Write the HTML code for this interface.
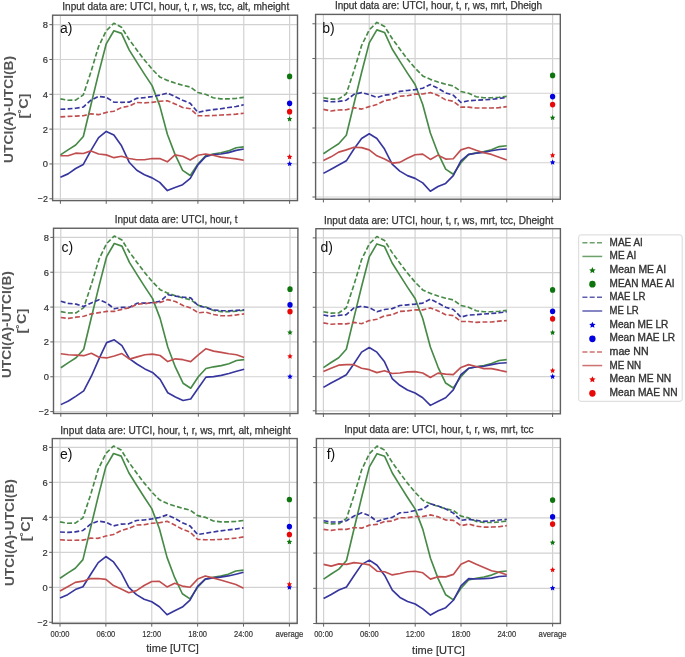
<!DOCTYPE html>
<html><head><meta charset="utf-8"><style>
html,body{margin:0;padding:0;background:#fff;}
svg{display:block;}
#w{will-change:transform;width:685px;height:657px;}
text{font-family:"Liberation Sans",sans-serif;}
</style></head><body>
<div id="w"><svg width="685" height="657" viewBox="0 0 685 657">
<rect width="685" height="657" fill="#fff"/>
<path d="M60.4,15.2V200.6M106.24,15.2V200.6M152.08,15.2V200.6M197.92,15.2V200.6M243.76,15.2V200.6M289.6,15.2V200.6M52.6,24.67H297.5M52.6,59.49H297.5M52.6,94.31H297.5M52.6,129.13H297.5M52.6,163.95H297.5M52.6,198.77H297.5" stroke="#d2d2d2" stroke-width="1.2" fill="none"/>
<path d="M60.4,98.84 L68.04,100.23 L75.68,100.06 L83.32,94.83 L90.96,71.85 L98.6,46.43 L106.24,30.76 L113.88,23.28 L121.52,27.28 L129.16,39.47 L136.8,49.91 L144.44,60.01 L152.08,69.07 L159.72,76.9 L167.36,80.38 L175,82.99 L182.64,85.26 L190.28,87 L197.92,92.57 L205.56,94.31 L213.2,97.79 L220.84,98.84 L228.48,98.84 L236.12,98.31 L243.76,97.44" stroke="#478a47" stroke-width="1.65" fill="none" stroke-linejoin="round" stroke-dasharray="4.9 2.3"/>
<path d="M60.4,154.9 L68.04,149.85 L75.68,144.97 L83.32,136.44 L90.96,104.76 L98.6,73.42 L106.24,43.82 L113.88,30.76 L121.52,33.38 L129.16,49.91 L136.8,62.1 L144.44,74.11 L152.08,85.6 L159.72,105.63 L167.36,134.18 L175,154.37 L182.64,170.39 L190.28,175.44 L197.92,163.95 L205.56,155.77 L213.2,154.03 L220.84,152.81 L228.48,150.89 L236.12,147.76 L243.76,146.89" stroke="#478a47" stroke-width="1.65" fill="none" stroke-linejoin="round"/>
<path d="M60.4,109.28 L68.04,108.93 L75.68,108.24 L83.32,107.02 L90.96,100.23 L98.6,96.4 L106.24,97.27 L113.88,102.14 L121.52,102.32 L129.16,102.14 L136.8,98.31 L144.44,97.62 L152.08,96.57 L159.72,95.18 L167.36,93.09 L175,96.57 L182.64,100.23 L190.28,103.36 L197.92,112.42 L205.56,110.68 L213.2,109.63 L220.84,108.76 L228.48,107.54 L236.12,106.5 L243.76,104.76" stroke="#36369e" stroke-width="1.65" fill="none" stroke-linejoin="round" stroke-dasharray="4.9 2.3"/>
<path d="M60.4,177.18 L68.04,173.87 L75.68,168.48 L83.32,164.47 L90.96,150.37 L98.6,137.66 L106.24,131.39 L113.88,135.05 L121.52,145.84 L129.16,162.21 L136.8,170.22 L144.44,174.74 L152.08,177.88 L159.72,182.4 L167.36,190.59 L175,187.45 L182.64,184.67 L190.28,178.4 L197.92,164.82 L205.56,156.64 L213.2,154.55 L220.84,154.03 L228.48,152.63 L236.12,150.37 L243.76,148.98" stroke="#36369e" stroke-width="1.65" fill="none" stroke-linejoin="round"/>
<path d="M60.4,116.94 L68.04,116.42 L75.68,116.07 L83.32,115.72 L90.96,113.81 L98.6,114.68 L106.24,112.42 L113.88,111.2 L121.52,107.54 L129.16,106.15 L136.8,102.49 L144.44,102.84 L152.08,102.32 L159.72,101.27 L167.36,100.75 L175,103.89 L182.64,107.54 L190.28,108.76 L197.92,115.72 L205.56,115.72 L213.2,115.55 L220.84,115.03 L228.48,114.68 L236.12,114.16 L243.76,113.29" stroke="#c14e4e" stroke-width="1.65" fill="none" stroke-linejoin="round" stroke-dasharray="4.9 2.3"/>
<path d="M60.4,155.77 L68.04,155.77 L75.68,153.16 L83.32,153.5 L90.96,150.89 L98.6,154.03 L106.24,154.9 L113.88,157.68 L121.52,156.29 L129.16,158.55 L136.8,159.77 L144.44,159.77 L152.08,158.55 L159.72,158.55 L167.36,161.86 L175,154.9 L182.64,156.29 L190.28,159.95 L197.92,155.24 L205.56,154.03 L213.2,155.24 L220.84,157.16 L228.48,158.03 L236.12,158.9 L243.76,160.29" stroke="#c14e4e" stroke-width="1.65" fill="none" stroke-linejoin="round"/>
<path d="M289.6,116.13 L290.42,117.91 L292.36,118.14 L290.92,119.46 L291.3,121.38 L289.6,120.42 L287.9,121.38 L288.28,119.46 L286.84,118.14 L288.78,117.91Z" fill="#0e740e"/>
<ellipse cx="289.6" cy="76.38" rx="2.65" ry="2.85" fill="#0e740e"/>
<path d="M289.6,160.88 L290.42,162.65 L292.36,162.88 L290.92,164.21 L291.3,166.12 L289.6,165.17 L287.9,166.12 L288.28,164.21 L286.84,162.88 L288.78,162.65Z" fill="#0000e0"/>
<ellipse cx="289.6" cy="103.36" rx="2.65" ry="2.85" fill="#0000e0"/>
<path d="M289.6,154.09 L290.42,155.86 L292.36,156.09 L290.92,157.42 L291.3,159.33 L289.6,158.38 L287.9,159.33 L288.28,157.42 L286.84,156.09 L288.78,155.86Z" fill="#e80808"/>
<ellipse cx="289.6" cy="111.72" rx="2.65" ry="2.85" fill="#e80808"/>
<rect x="52.6" y="15.2" width="244.9" height="185.4" fill="none" stroke="#606060" stroke-width="1.4"/>
<path d="M60.4,200.6v3.2M106.24,200.6v3.2M152.08,200.6v3.2M197.92,200.6v3.2M243.76,200.6v3.2M289.6,200.6v3.2M52.6,24.67h-3.2M52.6,59.49h-3.2M52.6,94.31h-3.2M52.6,129.13h-3.2M52.6,163.95h-3.2M52.6,198.77h-3.2" stroke="#606060" stroke-width="1" fill="none"/>
<text x="62.3" y="9.6" font-size="10.2" fill="#333" stroke="#333" stroke-width="0.25" textLength="226.9" lengthAdjust="spacingAndGlyphs">Input data are: UTCI, hour, t, r, ws, tcc, alt, mheight</text>
<text x="60" y="33" font-size="14" fill="#111">a)</text>
<text x="48" y="28.17" font-size="9.9" fill="#333" stroke="#333" stroke-width="0.2" text-anchor="end" textLength="5.2" lengthAdjust="spacingAndGlyphs">8</text>
<text x="48" y="62.99" font-size="9.9" fill="#333" stroke="#333" stroke-width="0.2" text-anchor="end" textLength="5.2" lengthAdjust="spacingAndGlyphs">6</text>
<text x="48" y="97.81" font-size="9.9" fill="#333" stroke="#333" stroke-width="0.2" text-anchor="end" textLength="5.2" lengthAdjust="spacingAndGlyphs">4</text>
<text x="48" y="132.63" font-size="9.9" fill="#333" stroke="#333" stroke-width="0.2" text-anchor="end" textLength="5.2" lengthAdjust="spacingAndGlyphs">2</text>
<text x="48" y="167.45" font-size="9.9" fill="#333" stroke="#333" stroke-width="0.2" text-anchor="end" textLength="5.2" lengthAdjust="spacingAndGlyphs">0</text>
<text x="48" y="202.27" font-size="9.9" fill="#333" stroke="#333" stroke-width="0.2" text-anchor="end" textLength="10.2" lengthAdjust="spacingAndGlyphs">−2</text>
<path d="M323.4,14.4V199.2M369.24,14.4V199.2M415.08,14.4V199.2M460.92,14.4V199.2M506.76,14.4V199.2M552.6,14.4V199.2M315.6,23.79H560.3M315.6,58.53H560.3M315.6,93.27H560.3M315.6,128.01H560.3M315.6,162.75H560.3M315.6,197H560.3" stroke="#d2d2d2" stroke-width="1.2" fill="none"/>
<path d="M323.4,97.79 L331.04,99.18 L338.68,99 L346.32,93.79 L353.96,70.86 L361.6,45.5 L369.24,29.87 L376.88,22.4 L384.52,26.4 L392.16,38.55 L399.8,48.98 L407.44,59.05 L415.08,68.08 L422.72,75.9 L430.36,79.37 L438,81.98 L445.64,84.24 L453.28,85.97 L460.92,91.53 L468.56,93.27 L476.2,96.74 L483.84,97.79 L491.48,97.79 L499.12,97.27 L506.76,96.4" stroke="#478a47" stroke-width="1.65" fill="none" stroke-linejoin="round" stroke-dasharray="4.9 2.3"/>
<path d="M323.4,153.72 L331.04,148.68 L338.68,143.82 L346.32,135.31 L353.96,103.69 L361.6,72.43 L369.24,42.9 L376.88,29.87 L384.52,32.47 L392.16,48.98 L399.8,61.14 L407.44,73.12 L415.08,84.58 L422.72,104.56 L430.36,133.05 L438,153.2 L445.64,169.18 L453.28,174.21 L460.92,162.75 L468.56,154.59 L476.2,152.85 L483.84,151.63 L491.48,149.72 L499.12,146.6 L506.76,145.73" stroke="#478a47" stroke-width="1.65" fill="none" stroke-linejoin="round"/>
<path d="M323.4,100.57 L331.04,101.78 L338.68,101.43 L346.32,100.22 L353.96,94.31 L361.6,92.58 L369.24,94.66 L376.88,97.44 L384.52,95.18 L392.16,94.31 L399.8,91.36 L407.44,90.49 L415.08,89.62 L422.72,88.23 L430.36,84.58 L438,88.23 L445.64,92.92 L453.28,95.18 L460.92,102.48 L468.56,100.74 L476.2,100.22 L483.84,99.87 L491.48,99.35 L499.12,98.48 L506.76,97.44" stroke="#36369e" stroke-width="1.65" fill="none" stroke-linejoin="round" stroke-dasharray="4.9 2.3"/>
<path d="M323.4,173.35 L331.04,169.18 L338.68,165.01 L346.32,160.84 L353.96,149.03 L361.6,138.43 L369.24,133.74 L376.88,138.43 L384.52,149.03 L392.16,164.14 L399.8,171.09 L407.44,175.6 L415.08,178.38 L422.72,182.9 L430.36,191.24 L438,186.55 L445.64,183.42 L453.28,175.6 L460.92,160.84 L468.56,154.41 L476.2,153.2 L483.84,152.33 L491.48,150.76 L499.12,149.55 L506.76,149.03" stroke="#36369e" stroke-width="1.65" fill="none" stroke-linejoin="round"/>
<path d="M323.4,109.42 L331.04,110.99 L338.68,109.95 L346.32,109.77 L353.96,107.69 L361.6,109.08 L369.24,106.64 L376.88,104.56 L384.52,100.57 L392.16,99.35 L399.8,96.22 L407.44,95.7 L415.08,94.14 L422.72,93.96 L430.36,92.58 L438,95.35 L445.64,99.87 L453.28,101.26 L460.92,107.17 L468.56,107.17 L476.2,108.03 L483.84,108.03 L491.48,108.03 L499.12,107.69 L506.76,106.64" stroke="#c14e4e" stroke-width="1.65" fill="none" stroke-linejoin="round" stroke-dasharray="4.9 2.3"/>
<path d="M323.4,160.49 L331.04,156.84 L338.68,152.15 L346.32,149.9 L353.96,147.29 L361.6,147.64 L369.24,149.9 L376.88,155.8 L384.52,159.1 L392.16,163.1 L399.8,162.4 L407.44,158.23 L415.08,154.76 L422.72,154.06 L430.36,159.45 L438,155.11 L445.64,159.1 L453.28,158.75 L460.92,149.9 L468.56,147.46 L476.2,150.24 L483.84,152.68 L491.48,154.41 L499.12,157.19 L506.76,159.97" stroke="#c14e4e" stroke-width="1.65" fill="none" stroke-linejoin="round"/>
<path d="M552.6,114.86 L553.42,116.64 L555.36,116.87 L553.92,118.19 L554.3,120.11 L552.6,119.15 L550.9,120.11 L551.28,118.19 L549.84,116.87 L551.78,116.64Z" fill="#0e740e"/>
<ellipse cx="552.6" cy="75.38" rx="2.65" ry="2.85" fill="#0e740e"/>
<path d="M552.6,159.5 L553.42,161.28 L555.36,161.51 L553.92,162.83 L554.3,164.75 L552.6,163.79 L550.9,164.75 L551.28,162.83 L549.84,161.51 L551.78,161.28Z" fill="#0000e0"/>
<ellipse cx="552.6" cy="96.57" rx="2.65" ry="2.85" fill="#0000e0"/>
<path d="M552.6,152.47 L553.42,154.24 L555.36,154.47 L553.92,155.8 L554.3,157.71 L552.6,156.76 L550.9,157.71 L551.28,155.8 L549.84,154.47 L551.78,154.24Z" fill="#e80808"/>
<ellipse cx="552.6" cy="104.56" rx="2.65" ry="2.85" fill="#e80808"/>
<rect x="315.6" y="14.4" width="244.7" height="184.8" fill="none" stroke="#606060" stroke-width="1.4"/>
<path d="M323.4,199.2v3.2M369.24,199.2v3.2M415.08,199.2v3.2M460.92,199.2v3.2M506.76,199.2v3.2M552.6,199.2v3.2M315.6,23.79h-3.2M315.6,58.53h-3.2M315.6,93.27h-3.2M315.6,128.01h-3.2M315.6,162.75h-3.2M315.6,197h-3.2" stroke="#606060" stroke-width="1" fill="none"/>
<text x="334.9" y="9.1" font-size="10.2" fill="#333" stroke="#333" stroke-width="0.25" textLength="207.3" lengthAdjust="spacingAndGlyphs">Input data are: UTCI, hour, t, r, ws, mrt, Dheigh</text>
<text x="322.2" y="33.3" font-size="14" fill="#111">b)</text>
<path d="M60.8,228.25V413.5M106.64,228.25V413.5M152.48,228.25V413.5M198.32,228.25V413.5M244.16,228.25V413.5M290,228.25V413.5M53.5,237.39H297.9M53.5,272.23H297.9M53.5,307.07H297.9M53.5,341.91H297.9M53.5,376.75H297.9M53.5,411.59H297.9" stroke="#d2d2d2" stroke-width="1.2" fill="none"/>
<path d="M60.8,311.6 L68.44,312.99 L76.08,312.82 L83.72,307.59 L91.36,284.6 L99,259.16 L106.64,243.49 L114.28,236 L121.92,240 L129.56,252.2 L137.2,262.65 L144.84,272.75 L152.48,281.81 L160.12,289.65 L167.76,293.13 L175.4,295.75 L183.04,298.01 L190.68,299.75 L198.32,305.33 L205.96,307.07 L213.6,310.55 L221.24,311.6 L228.88,311.6 L236.52,311.08 L244.16,310.21" stroke="#478a47" stroke-width="1.65" fill="none" stroke-linejoin="round" stroke-dasharray="4.9 2.3"/>
<path d="M60.8,367.69 L68.44,362.64 L76.08,357.76 L83.72,349.23 L91.36,317.52 L99,286.17 L106.64,256.55 L114.28,243.49 L121.92,246.1 L129.56,262.65 L137.2,274.84 L144.84,286.86 L152.48,298.36 L160.12,318.39 L167.76,346.96 L175.4,367.17 L183.04,383.2 L190.68,388.25 L198.32,376.75 L205.96,368.56 L213.6,366.82 L221.24,365.6 L228.88,363.69 L236.52,360.55 L244.16,359.68" stroke="#478a47" stroke-width="1.65" fill="none" stroke-linejoin="round"/>
<path d="M60.8,301.32 L68.44,303.41 L76.08,304.11 L83.72,306.55 L91.36,302.89 L99,299.75 L106.64,302.89 L114.28,308.81 L121.92,307.42 L129.56,307.24 L137.2,303.24 L144.84,303.06 L152.48,302.54 L160.12,301.32 L167.76,294.7 L175.4,296.1 L183.04,297.14 L190.68,297.84 L198.32,305.85 L205.96,307.59 L213.6,310.03 L221.24,310.55 L228.88,310.9 L236.52,310.38 L244.16,309.86" stroke="#36369e" stroke-width="1.65" fill="none" stroke-linejoin="round" stroke-dasharray="4.9 2.3"/>
<path d="M60.8,404.62 L68.44,400.96 L76.08,396.09 L83.72,390.86 L91.36,376.23 L99,358.81 L106.64,342.61 L114.28,339.82 L121.92,345.57 L129.56,358.81 L137.2,364.21 L144.84,368.91 L152.48,372.39 L160.12,379.36 L167.76,392.78 L175.4,396.96 L183.04,400.44 L190.68,399.05 L198.32,388.07 L205.96,377.1 L213.6,376.58 L221.24,375.36 L228.88,373.44 L236.52,371.18 L244.16,369.26" stroke="#36369e" stroke-width="1.65" fill="none" stroke-linejoin="round"/>
<path d="M60.8,317.52 L68.44,318.39 L76.08,317.17 L83.72,316.3 L91.36,313.86 L99,312.64 L106.64,311.43 L114.28,311.43 L121.92,309.33 L129.56,307.77 L137.2,304.11 L144.84,303.59 L152.48,302.71 L160.12,302.54 L167.76,299.58 L175.4,301.5 L183.04,305.5 L190.68,307.94 L198.32,312.82 L205.96,312.12 L213.6,314.56 L221.24,315.78 L228.88,315.78 L236.52,314.91 L244.16,313.86" stroke="#c14e4e" stroke-width="1.65" fill="none" stroke-linejoin="round" stroke-dasharray="4.9 2.3"/>
<path d="M60.8,353.76 L68.44,354.8 L76.08,355.15 L83.72,355.67 L91.36,353.23 L99,357.24 L106.64,357.94 L114.28,356.02 L121.92,353.58 L129.56,359.16 L137.2,356.89 L144.84,354.8 L152.48,354.1 L160.12,355.5 L167.76,361.59 L175.4,358.81 L183.04,359.68 L190.68,361.59 L198.32,354.8 L205.96,348.7 L213.6,351.14 L221.24,352.36 L228.88,353.76 L236.52,354.8 L244.16,357.41" stroke="#c14e4e" stroke-width="1.65" fill="none" stroke-linejoin="round"/>
<path d="M290,329.6 L290.82,331.38 L292.76,331.61 L291.32,332.93 L291.7,334.85 L290,333.9 L288.3,334.85 L288.68,332.93 L287.24,331.61 L289.18,331.38Z" fill="#0e740e"/>
<ellipse cx="290" cy="289.13" rx="2.65" ry="2.85" fill="#0e740e"/>
<path d="M290,373.85 L290.82,375.62 L292.76,375.85 L291.32,377.18 L291.7,379.1 L290,378.14 L288.3,379.1 L288.68,377.18 L287.24,375.85 L289.18,375.62Z" fill="#0000e0"/>
<ellipse cx="290" cy="304.81" rx="2.65" ry="2.85" fill="#0000e0"/>
<path d="M290,353.47 L290.82,355.24 L292.76,355.47 L291.32,356.8 L291.7,358.71 L290,357.76 L288.3,358.71 L288.68,356.8 L287.24,355.47 L289.18,355.24Z" fill="#e80808"/>
<ellipse cx="290" cy="311.6" rx="2.65" ry="2.85" fill="#e80808"/>
<rect x="53.5" y="228.25" width="244.4" height="185.25" fill="none" stroke="#606060" stroke-width="1.4"/>
<path d="M60.8,413.5v3.2M106.64,413.5v3.2M152.48,413.5v3.2M198.32,413.5v3.2M244.16,413.5v3.2M290,413.5v3.2M53.5,237.39h-3.2M53.5,272.23h-3.2M53.5,307.07h-3.2M53.5,341.91h-3.2M53.5,376.75h-3.2M53.5,411.59h-3.2" stroke="#606060" stroke-width="1" fill="none"/>
<text x="114.8" y="223.2" font-size="10.2" fill="#333" stroke="#333" stroke-width="0.25" textLength="122.6" lengthAdjust="spacingAndGlyphs">Input data are: UTCI, hour, t</text>
<text x="61.6" y="251.5" font-size="14" fill="#111">c)</text>
<text x="48.9" y="240.89" font-size="9.9" fill="#333" stroke="#333" stroke-width="0.2" text-anchor="end" textLength="5.2" lengthAdjust="spacingAndGlyphs">8</text>
<text x="48.9" y="275.73" font-size="9.9" fill="#333" stroke="#333" stroke-width="0.2" text-anchor="end" textLength="5.2" lengthAdjust="spacingAndGlyphs">6</text>
<text x="48.9" y="310.57" font-size="9.9" fill="#333" stroke="#333" stroke-width="0.2" text-anchor="end" textLength="5.2" lengthAdjust="spacingAndGlyphs">4</text>
<text x="48.9" y="345.41" font-size="9.9" fill="#333" stroke="#333" stroke-width="0.2" text-anchor="end" textLength="5.2" lengthAdjust="spacingAndGlyphs">2</text>
<text x="48.9" y="380.25" font-size="9.9" fill="#333" stroke="#333" stroke-width="0.2" text-anchor="end" textLength="5.2" lengthAdjust="spacingAndGlyphs">0</text>
<text x="48.9" y="415.09" font-size="9.9" fill="#333" stroke="#333" stroke-width="0.2" text-anchor="end" textLength="10.2" lengthAdjust="spacingAndGlyphs">−2</text>
<path d="M323.4,228.7V413.8M369.24,228.7V413.8M415.08,228.7V413.8M460.92,228.7V413.8M506.76,228.7V413.8M552.6,228.7V413.8M315.9,237.88H560.4M315.9,272.56H560.4M315.9,307.24H560.4M315.9,341.92H560.4M315.9,376.6H560.4M315.9,410.8H560.4" stroke="#d2d2d2" stroke-width="1.2" fill="none"/>
<path d="M323.4,311.75 L331.04,313.14 L338.68,312.96 L346.32,307.76 L353.96,284.87 L361.6,259.56 L369.24,243.95 L376.88,236.49 L384.52,240.48 L392.16,252.62 L399.8,263.02 L407.44,273.08 L415.08,282.1 L422.72,289.9 L430.36,293.37 L438,295.97 L445.64,298.22 L453.28,299.96 L460.92,305.51 L468.56,307.24 L476.2,310.71 L483.84,311.75 L491.48,311.75 L499.12,311.23 L506.76,310.36" stroke="#478a47" stroke-width="1.65" fill="none" stroke-linejoin="round" stroke-dasharray="4.9 2.3"/>
<path d="M323.4,367.58 L331.04,362.55 L338.68,357.7 L346.32,349.2 L353.96,317.64 L361.6,286.43 L369.24,256.95 L376.88,243.95 L384.52,246.55 L392.16,263.02 L399.8,275.16 L407.44,287.13 L415.08,298.57 L422.72,318.51 L430.36,346.95 L438,367.06 L445.64,383.02 L453.28,388.04 L460.92,376.6 L468.56,368.45 L476.2,366.72 L483.84,365.5 L491.48,363.6 L499.12,360.47 L506.76,359.61" stroke="#478a47" stroke-width="1.65" fill="none" stroke-linejoin="round"/>
<path d="M323.4,315.04 L331.04,316.26 L338.68,315.39 L346.32,314.7 L353.96,307.93 L361.6,306.2 L369.24,307.59 L376.88,311.75 L384.52,309.49 L392.16,308.63 L399.8,305.51 L407.44,304.81 L415.08,304.12 L422.72,303.08 L430.36,299.09 L438,302.91 L445.64,307.24 L453.28,309.49 L460.92,317.12 L468.56,315.04 L476.2,314.7 L483.84,314 L491.48,313.48 L499.12,312.79 L506.76,311.75" stroke="#36369e" stroke-width="1.65" fill="none" stroke-linejoin="round" stroke-dasharray="4.9 2.3"/>
<path d="M323.4,387.35 L331.04,383.02 L338.68,379.03 L346.32,374.69 L353.96,363.77 L361.6,352.15 L369.24,347.47 L376.88,352.15 L384.52,361.86 L392.16,378.51 L399.8,385.27 L407.44,389.95 L415.08,393.07 L422.72,397.75 L430.36,405.38 L438,401.4 L445.64,397.75 L453.28,389.95 L460.92,374.69 L468.56,368.28 L476.2,366.89 L483.84,366.2 L491.48,364.64 L499.12,363.25 L506.76,362.73" stroke="#36369e" stroke-width="1.65" fill="none" stroke-linejoin="round"/>
<path d="M323.4,322.85 L331.04,324.23 L338.68,323.89 L346.32,323.89 L353.96,322.33 L361.6,323.71 L369.24,320.59 L376.88,319.2 L384.52,315.91 L392.16,314.7 L399.8,311.4 L407.44,310.88 L415.08,309.84 L422.72,309.84 L430.36,307.93 L438,310.88 L445.64,314.7 L453.28,315.56 L460.92,321.46 L468.56,321.46 L476.2,322.33 L483.84,321.98 L491.48,321.98 L499.12,321.11 L506.76,320.59" stroke="#c14e4e" stroke-width="1.65" fill="none" stroke-linejoin="round" stroke-dasharray="4.9 2.3"/>
<path d="M323.4,371.57 L331.04,368.28 L338.68,365.16 L346.32,364.64 L353.96,364.64 L361.6,368.28 L369.24,369.66 L376.88,372.61 L384.52,370.7 L392.16,373.48 L399.8,372.96 L407.44,371.92 L415.08,371.57 L422.72,372.96 L430.36,377.47 L438,373.13 L445.64,374.17 L453.28,374.69 L460.92,367.41 L468.56,364.64 L476.2,366.54 L483.84,368.62 L491.48,368.62 L499.12,370.18 L506.76,371.92" stroke="#c14e4e" stroke-width="1.65" fill="none" stroke-linejoin="round"/>
<path d="M552.6,329.66 L553.42,331.43 L555.36,331.66 L553.92,332.99 L554.3,334.9 L552.6,333.95 L550.9,334.9 L551.28,332.99 L549.84,331.66 L551.78,331.43Z" fill="#0e740e"/>
<ellipse cx="552.6" cy="289.9" rx="2.65" ry="2.85" fill="#0e740e"/>
<path d="M552.6,373.7 L553.42,375.47 L555.36,375.7 L553.92,377.03 L554.3,378.95 L552.6,377.99 L550.9,378.95 L551.28,377.03 L549.84,375.7 L551.78,375.47Z" fill="#0000e0"/>
<ellipse cx="552.6" cy="311.23" rx="2.65" ry="2.85" fill="#0000e0"/>
<path d="M552.6,367.63 L553.42,369.4 L555.36,369.63 L553.92,370.96 L554.3,372.88 L552.6,371.92 L550.9,372.88 L551.28,370.96 L549.84,369.63 L551.78,369.4Z" fill="#e80808"/>
<ellipse cx="552.6" cy="318.86" rx="2.65" ry="2.85" fill="#e80808"/>
<rect x="315.9" y="228.7" width="244.5" height="185.1" fill="none" stroke="#606060" stroke-width="1.4"/>
<path d="M323.4,413.8v3.2M369.24,413.8v3.2M415.08,413.8v3.2M460.92,413.8v3.2M506.76,413.8v3.2M552.6,413.8v3.2M315.9,237.88h-3.2M315.9,272.56h-3.2M315.9,307.24h-3.2M315.9,341.92h-3.2M315.9,376.6h-3.2M315.9,410.8h-3.2" stroke="#606060" stroke-width="1" fill="none"/>
<text x="324" y="223.8" font-size="10.2" fill="#333" stroke="#333" stroke-width="0.25" textLength="229.3" lengthAdjust="spacingAndGlyphs">Input data are: UTCI, hour, t, r, ws, mrt, tcc, Dheight</text>
<text x="320.4" y="251.7" font-size="14" fill="#111">d)</text>
<path d="M60,438.55V623.45M105.88,438.55V623.45M151.76,438.55V623.45M197.64,438.55V623.45M243.52,438.55V623.45M289.4,438.55V623.45M52.3,447.38H297.2M52.3,482.36H297.2M52.3,517.34H297.2M52.3,552.32H297.2M52.3,587.3H297.2M52.3,622.28H297.2" stroke="#d2d2d2" stroke-width="1.2" fill="none"/>
<path d="M60,521.89 L67.65,523.29 L75.29,523.11 L82.94,517.86 L90.59,494.78 L98.23,469.24 L105.88,453.5 L113.53,445.98 L121.17,450 L128.82,462.25 L136.47,472.74 L144.11,482.88 L151.76,491.98 L159.41,499.85 L167.05,503.35 L174.7,505.97 L182.35,508.25 L189.99,509.99 L197.64,515.59 L205.29,517.34 L212.93,520.84 L220.58,521.89 L228.23,521.89 L235.87,521.36 L243.52,520.49" stroke="#478a47" stroke-width="1.65" fill="none" stroke-linejoin="round" stroke-dasharray="4.9 2.3"/>
<path d="M60,578.21 L67.65,573.13 L75.29,568.24 L82.94,559.67 L90.59,527.83 L98.23,496.35 L105.88,466.62 L113.53,453.5 L121.17,456.12 L128.82,472.74 L136.47,484.98 L144.11,497.05 L151.76,508.59 L159.41,528.71 L167.05,557.39 L174.7,577.68 L182.35,593.77 L189.99,598.84 L197.64,587.3 L205.29,579.08 L212.93,577.33 L220.58,576.11 L228.23,574.18 L235.87,571.03 L243.52,570.16" stroke="#478a47" stroke-width="1.65" fill="none" stroke-linejoin="round"/>
<path d="M60,532.03 L67.65,532.38 L75.29,531.86 L82.94,530.46 L90.59,524.16 L98.23,521.01 L105.88,522.24 L113.53,525.91 L121.17,524.16 L128.82,523.81 L136.47,520.49 L144.11,519.96 L151.76,518.91 L159.41,517.51 L167.05,514.89 L174.7,518.21 L182.35,522.76 L189.99,525.91 L197.64,534.48 L205.29,533.26 L212.93,532.03 L220.58,530.81 L228.23,529.93 L235.87,529.06 L243.52,527.83" stroke="#36369e" stroke-width="1.65" fill="none" stroke-linejoin="round" stroke-dasharray="4.9 2.3"/>
<path d="M60,597.97 L67.65,594.65 L75.29,589.57 L82.94,586.78 L90.59,574.53 L98.23,562.64 L105.88,556.52 L113.53,561.94 L121.17,572.61 L128.82,587.3 L136.47,594.65 L144.11,599.19 L151.76,601.82 L159.41,606.71 L167.05,614.76 L174.7,610.74 L182.35,607.06 L189.99,600.07 L197.64,586.43 L205.29,579.08 L212.93,577.86 L220.58,577.16 L228.23,575.93 L235.87,574.18 L243.52,572.26" stroke="#36369e" stroke-width="1.65" fill="none" stroke-linejoin="round"/>
<path d="M60,539.73 L67.65,540.25 L75.29,540.25 L82.94,540.08 L90.59,538.15 L98.23,538.33 L105.88,536.05 L113.53,534.48 L121.17,530.46 L128.82,528.36 L136.47,525.04 L144.11,524.69 L151.76,523.29 L159.41,522.76 L167.05,521.36 L174.7,525.04 L182.35,529.23 L189.99,532.03 L197.64,539.38 L205.29,539.73 L212.93,539.73 L220.58,539.38 L228.23,538.85 L235.87,538.15 L243.52,536.93" stroke="#c14e4e" stroke-width="1.65" fill="none" stroke-linejoin="round" stroke-dasharray="4.9 2.3"/>
<path d="M60,590.97 L67.65,586.78 L75.29,582.4 L82.94,581.18 L90.59,578.55 L98.23,578.55 L105.88,579.43 L113.53,585.55 L121.17,589.05 L128.82,592.72 L136.47,590.62 L144.11,585.55 L151.76,581.53 L159.41,581.35 L167.05,586.95 L174.7,583.28 L182.35,586.08 L189.99,587.3 L197.64,579.08 L205.29,575.93 L212.93,577.86 L220.58,579.95 L228.23,582.23 L235.87,584.5 L243.52,588.17" stroke="#c14e4e" stroke-width="1.65" fill="none" stroke-linejoin="round"/>
<path d="M289.4,539.1 L290.22,540.87 L292.16,541.1 L290.72,542.43 L291.1,544.35 L289.4,543.39 L287.7,544.35 L288.08,542.43 L286.64,541.1 L288.58,540.87Z" fill="#0e740e"/>
<ellipse cx="289.4" cy="499.5" rx="2.65" ry="2.85" fill="#0e740e"/>
<path d="M289.4,584.4 L290.22,586.17 L292.16,586.4 L290.72,587.73 L291.1,589.65 L289.4,588.69 L287.7,589.65 L288.08,587.73 L286.64,586.4 L288.58,586.17Z" fill="#0000e0"/>
<ellipse cx="289.4" cy="526.61" rx="2.65" ry="2.85" fill="#0000e0"/>
<path d="M289.4,581.43 L290.22,583.2 L292.16,583.43 L290.72,584.76 L291.1,586.67 L289.4,585.72 L287.7,586.67 L288.08,584.76 L286.64,583.43 L288.58,583.2Z" fill="#e80808"/>
<ellipse cx="289.4" cy="534.48" rx="2.65" ry="2.85" fill="#e80808"/>
<rect x="52.3" y="438.55" width="244.9" height="184.9" fill="none" stroke="#606060" stroke-width="1.4"/>
<path d="M60,623.45v3.2M105.88,623.45v3.2M151.76,623.45v3.2M197.64,623.45v3.2M243.52,623.45v3.2M289.4,623.45v3.2M52.3,447.38h-3.2M52.3,482.36h-3.2M52.3,517.34h-3.2M52.3,552.32h-3.2M52.3,587.3h-3.2M52.3,622.28h-3.2" stroke="#606060" stroke-width="1" fill="none"/>
<text x="60.3" y="433.8" font-size="10.2" fill="#333" stroke="#333" stroke-width="0.25" textLength="230.6" lengthAdjust="spacingAndGlyphs">Input data are: UTCI, hour, t, r, ws, mrt, alt, mheight</text>
<text x="60" y="459.2" font-size="14" fill="#111">e)</text>
<text x="47.7" y="450.88" font-size="9.9" fill="#333" stroke="#333" stroke-width="0.2" text-anchor="end" textLength="5.2" lengthAdjust="spacingAndGlyphs">8</text>
<text x="47.7" y="485.86" font-size="9.9" fill="#333" stroke="#333" stroke-width="0.2" text-anchor="end" textLength="5.2" lengthAdjust="spacingAndGlyphs">6</text>
<text x="47.7" y="520.84" font-size="9.9" fill="#333" stroke="#333" stroke-width="0.2" text-anchor="end" textLength="5.2" lengthAdjust="spacingAndGlyphs">4</text>
<text x="47.7" y="555.82" font-size="9.9" fill="#333" stroke="#333" stroke-width="0.2" text-anchor="end" textLength="5.2" lengthAdjust="spacingAndGlyphs">2</text>
<text x="47.7" y="590.8" font-size="9.9" fill="#333" stroke="#333" stroke-width="0.2" text-anchor="end" textLength="5.2" lengthAdjust="spacingAndGlyphs">0</text>
<text x="47.7" y="625.78" font-size="9.9" fill="#333" stroke="#333" stroke-width="0.2" text-anchor="end" textLength="10.2" lengthAdjust="spacingAndGlyphs">−2</text>
<text x="60" y="636.55" font-size="9.9" fill="#333" stroke="#333" stroke-width="0.2" text-anchor="middle" textLength="18.8" lengthAdjust="spacingAndGlyphs">00:00</text>
<text x="105.88" y="636.55" font-size="9.9" fill="#333" stroke="#333" stroke-width="0.2" text-anchor="middle" textLength="18.8" lengthAdjust="spacingAndGlyphs">06:00</text>
<text x="151.76" y="636.55" font-size="9.9" fill="#333" stroke="#333" stroke-width="0.2" text-anchor="middle" textLength="18.8" lengthAdjust="spacingAndGlyphs">12:00</text>
<text x="197.64" y="636.55" font-size="9.9" fill="#333" stroke="#333" stroke-width="0.2" text-anchor="middle" textLength="18.8" lengthAdjust="spacingAndGlyphs">18:00</text>
<text x="243.52" y="636.55" font-size="9.9" fill="#333" stroke="#333" stroke-width="0.2" text-anchor="middle" textLength="18.8" lengthAdjust="spacingAndGlyphs">24:00</text>
<text x="289.4" y="636.55" font-size="9.9" fill="#333" stroke="#333" stroke-width="0.2" text-anchor="middle" textLength="28.0" lengthAdjust="spacingAndGlyphs">average</text>
<path d="M323.6,438.55V623.45M369.4,438.55V623.45M415.2,438.55V623.45M461,438.55V623.45M506.8,438.55V623.45M552.6,438.55V623.45M316.4,447.5H560.4M316.4,482.7H560.4M316.4,517.9H560.4M316.4,553.1H560.4M316.4,588.3H560.4M316.4,623.5H560.4" stroke="#d2d2d2" stroke-width="1.2" fill="none"/>
<path d="M323.6,522.48 L331.23,523.88 L338.87,523.71 L346.5,518.43 L354.13,495.2 L361.77,469.5 L369.4,453.66 L377.03,446.09 L384.67,450.14 L392.3,462.46 L399.93,473.02 L407.57,483.23 L415.2,492.38 L422.83,500.3 L430.47,503.82 L438.1,506.46 L445.73,508.75 L453.37,510.51 L461,516.14 L468.63,517.9 L476.27,521.42 L483.9,522.48 L491.53,522.48 L499.17,521.95 L506.8,521.07" stroke="#478a47" stroke-width="1.65" fill="none" stroke-linejoin="round" stroke-dasharray="4.9 2.3"/>
<path d="M323.6,579.15 L331.23,574.04 L338.87,569.12 L346.5,560.49 L354.13,528.46 L361.77,496.78 L369.4,466.86 L377.03,453.66 L384.67,456.3 L392.3,473.02 L399.93,485.34 L407.57,497.48 L415.2,509.1 L422.83,529.34 L430.47,558.2 L438.1,578.62 L445.73,594.81 L453.37,599.92 L461,588.3 L468.63,580.03 L476.27,578.27 L483.9,577.04 L491.53,575.1 L499.17,571.93 L506.8,571.05" stroke="#478a47" stroke-width="1.65" fill="none" stroke-linejoin="round"/>
<path d="M323.6,520.72 L331.23,521.95 L338.87,521.95 L346.5,520.72 L354.13,515.96 L361.77,512.8 L369.4,515.61 L377.03,521.42 L384.67,518.96 L392.3,517.37 L399.93,512.8 L407.57,512.27 L415.2,510.51 L422.83,509.1 L430.47,503.82 L438.1,505.93 L445.73,508.92 L453.37,513.15 L461,520.36 L468.63,519.31 L476.27,520.36 L483.9,521.42 L491.53,520.89 L499.17,520.01 L506.8,519.31" stroke="#36369e" stroke-width="1.65" fill="none" stroke-linejoin="round" stroke-dasharray="4.9 2.3"/>
<path d="M323.6,598.51 L331.23,594.46 L338.87,590.06 L346.5,587.07 L354.13,575.45 L361.77,564.36 L369.4,560.14 L377.03,565.24 L384.67,575.45 L392.3,590.06 L399.93,597.45 L407.57,601.5 L415.2,603.96 L422.83,608.89 L430.47,615.05 L438.1,610.83 L445.73,607.66 L453.37,600.27 L461,585.84 L468.63,578.62 L476.27,578.97 L483.9,578.62 L491.53,578.09 L499.17,576.51 L506.8,575.98" stroke="#36369e" stroke-width="1.65" fill="none" stroke-linejoin="round"/>
<path d="M323.6,529.34 L331.23,530.4 L338.87,529.34 L346.5,529.34 L354.13,527.58 L361.77,528.11 L369.4,525.12 L377.03,524.41 L384.67,521.42 L392.3,521.07 L399.93,517.72 L407.57,517.72 L415.2,516.49 L422.83,516.49 L430.47,514.91 L438.1,516.84 L445.73,520.01 L453.37,520.36 L461,525.64 L468.63,524.06 L476.27,526.17 L483.9,527.05 L491.53,527.05 L499.17,526.7 L506.8,525.64" stroke="#c14e4e" stroke-width="1.65" fill="none" stroke-linejoin="round" stroke-dasharray="4.9 2.3"/>
<path d="M323.6,564.36 L331.23,566.12 L338.87,563.84 L346.5,564.36 L354.13,562.6 L361.77,563.48 L369.4,564.89 L377.03,571.23 L384.67,571.76 L392.3,574.92 L399.93,573.52 L407.57,571.76 L415.2,571.23 L422.83,572.81 L430.47,579.15 L438.1,576.68 L445.73,576.86 L453.37,574.4 L461,564.36 L468.63,560.84 L476.27,564.36 L483.9,567.53 L491.53,570.7 L499.17,572.28 L506.8,574.75" stroke="#c14e4e" stroke-width="1.65" fill="none" stroke-linejoin="round"/>
<path d="M552.6,539.82 L553.42,541.59 L555.36,541.82 L553.92,543.15 L554.3,545.06 L552.6,544.11 L550.9,545.06 L551.28,543.15 L549.84,541.82 L551.78,541.59Z" fill="#0e740e"/>
<ellipse cx="552.6" cy="500.12" rx="2.65" ry="2.85" fill="#0e740e"/>
<path d="M552.6,585.22 L553.42,587 L555.36,587.23 L553.92,588.55 L554.3,590.47 L552.6,589.52 L550.9,590.47 L551.28,588.55 L549.84,587.23 L551.78,587Z" fill="#0000e0"/>
<ellipse cx="552.6" cy="516.84" rx="2.65" ry="2.85" fill="#0000e0"/>
<path d="M552.6,566.92 L553.42,568.69 L555.36,568.92 L553.92,570.25 L554.3,572.17 L552.6,571.21 L550.9,572.17 L551.28,570.25 L549.84,568.92 L551.78,568.69Z" fill="#e80808"/>
<ellipse cx="552.6" cy="524.06" rx="2.65" ry="2.85" fill="#e80808"/>
<rect x="316.4" y="438.55" width="244" height="184.9" fill="none" stroke="#606060" stroke-width="1.4"/>
<path d="M323.6,623.45v3.2M369.4,623.45v3.2M415.2,623.45v3.2M461,623.45v3.2M506.8,623.45v3.2M552.6,623.45v3.2M316.4,447.5h-3.2M316.4,482.7h-3.2M316.4,517.9h-3.2M316.4,553.1h-3.2M316.4,588.3h-3.2M316.4,623.5h-3.2" stroke="#606060" stroke-width="1" fill="none"/>
<text x="344.3" y="433.1" font-size="10.2" fill="#333" stroke="#333" stroke-width="0.25" textLength="189.3" lengthAdjust="spacingAndGlyphs">Input data are: UTCI, hour, t, r, ws, mrt, tcc</text>
<text x="326.7" y="459" font-size="14" fill="#111">f)</text>
<text x="323.6" y="636.55" font-size="9.9" fill="#333" stroke="#333" stroke-width="0.2" text-anchor="middle" textLength="18.8" lengthAdjust="spacingAndGlyphs">00:00</text>
<text x="369.4" y="636.55" font-size="9.9" fill="#333" stroke="#333" stroke-width="0.2" text-anchor="middle" textLength="18.8" lengthAdjust="spacingAndGlyphs">06:00</text>
<text x="415.2" y="636.55" font-size="9.9" fill="#333" stroke="#333" stroke-width="0.2" text-anchor="middle" textLength="18.8" lengthAdjust="spacingAndGlyphs">12:00</text>
<text x="461" y="636.55" font-size="9.9" fill="#333" stroke="#333" stroke-width="0.2" text-anchor="middle" textLength="18.8" lengthAdjust="spacingAndGlyphs">18:00</text>
<text x="506.8" y="636.55" font-size="9.9" fill="#333" stroke="#333" stroke-width="0.2" text-anchor="middle" textLength="18.8" lengthAdjust="spacingAndGlyphs">24:00</text>
<text x="552.6" y="636.55" font-size="9.9" fill="#333" stroke="#333" stroke-width="0.2" text-anchor="middle" textLength="28.0" lengthAdjust="spacingAndGlyphs">average</text>
<text x="146.3" y="651.8" font-size="10.5" fill="#333" stroke="#333" stroke-width="0.2" textLength="52.4" lengthAdjust="spacingAndGlyphs">time [UTC]</text>
<text x="412.1" y="653.7" font-size="10.5" fill="#333" stroke="#333" stroke-width="0.2" textLength="52.6" lengthAdjust="spacingAndGlyphs">time [UTC]</text>
<text transform="translate(12.8,109.4) rotate(-90)" x="0" y="0" font-size="12.6" font-weight="bold" fill="#555" text-anchor="middle" textLength="107" lengthAdjust="spacingAndGlyphs">UTCI(A)-UTCI(B)</text>
<text transform="translate(28.4,106) rotate(-90)" x="0" y="0" font-size="12.6" font-weight="bold" fill="#555" text-anchor="middle" textLength="24.8" lengthAdjust="spacingAndGlyphs">[˚C]</text>
<text transform="translate(10.8,324.6) rotate(-90)" x="0" y="0" font-size="12.6" font-weight="bold" fill="#555" text-anchor="middle" textLength="107" lengthAdjust="spacingAndGlyphs">UTCI(A)-UTCI(B)</text>
<text transform="translate(25.8,321.1) rotate(-90)" x="0" y="0" font-size="12.6" font-weight="bold" fill="#555" text-anchor="middle" textLength="24.8" lengthAdjust="spacingAndGlyphs">[˚C]</text>
<text transform="translate(14,532.6) rotate(-90)" x="0" y="0" font-size="12.6" font-weight="bold" fill="#555" text-anchor="middle" textLength="107" lengthAdjust="spacingAndGlyphs">UTCI(A)-UTCI(B)</text>
<text transform="translate(29.5,528.9) rotate(-90)" x="0" y="0" font-size="12.6" font-weight="bold" fill="#555" text-anchor="middle" textLength="24.8" lengthAdjust="spacingAndGlyphs">[˚C]</text>
<rect x="578.7" y="234.9" width="103.5" height="166.4" rx="2.2" fill="#fff" stroke="#d8d8d8" stroke-width="1"/>
<path d="M582.4,242.8H602.2" stroke="#478a47" stroke-width="1.5" stroke-opacity="0.8" stroke-dasharray="5 2.3"/>
<text x="609.6" y="245.8" font-size="10" fill="#333" stroke="#333" stroke-width="0.35" textLength="33.2" lengthAdjust="spacingAndGlyphs">MAE AI</text>
<path d="M582.4,256.44H602.2" stroke="#478a47" stroke-width="1.5" stroke-opacity="0.8"/>
<text x="609.6" y="259.44" font-size="10" fill="#333" stroke="#333" stroke-width="0.35" textLength="26.7" lengthAdjust="spacingAndGlyphs">ME AI</text>
<path d="M592.4,267.08 L593.36,269.16 L595.63,269.43 L593.95,270.98 L594.4,273.23 L592.4,272.11 L590.4,273.23 L590.85,270.98 L589.17,269.43 L591.44,269.16Z" fill="#0e740e"/>
<text x="609.6" y="273.08" font-size="10" fill="#333" stroke="#333" stroke-width="0.35" textLength="56.5" lengthAdjust="spacingAndGlyphs">Mean ME AI</text>
<ellipse cx="592.4" cy="284.22" rx="3.2" ry="3.4" fill="#0e740e"/>
<text x="609.6" y="286.72" font-size="10" fill="#333" stroke="#333" stroke-width="0.35" textLength="64.9" lengthAdjust="spacingAndGlyphs">MEAN MAE AI</text>
<path d="M582.4,297.36H602.2" stroke="#36369e" stroke-width="1.5" stroke-opacity="0.8" stroke-dasharray="5 2.3"/>
<text x="609.6" y="300.36" font-size="10" fill="#333" stroke="#333" stroke-width="0.35" textLength="35.8" lengthAdjust="spacingAndGlyphs">MAE LR</text>
<path d="M582.4,311H602.2" stroke="#36369e" stroke-width="1.5" stroke-opacity="0.8"/>
<text x="609.6" y="314" font-size="10" fill="#333" stroke="#333" stroke-width="0.35" textLength="29.1" lengthAdjust="spacingAndGlyphs">ME LR</text>
<path d="M592.4,321.64 L593.36,323.72 L595.63,323.99 L593.95,325.54 L594.4,327.79 L592.4,326.67 L590.4,327.79 L590.85,325.54 L589.17,323.99 L591.44,323.72Z" fill="#0000e0"/>
<text x="609.6" y="327.64" font-size="10" fill="#333" stroke="#333" stroke-width="0.35" textLength="58.8" lengthAdjust="spacingAndGlyphs">Mean ME LR</text>
<ellipse cx="592.4" cy="338.78" rx="3.2" ry="3.4" fill="#0000e0"/>
<text x="609.6" y="341.28" font-size="10" fill="#333" stroke="#333" stroke-width="0.35" textLength="65.5" lengthAdjust="spacingAndGlyphs">Mean MAE LR</text>
<path d="M582.4,351.92H602.2" stroke="#c14e4e" stroke-width="1.5" stroke-opacity="0.8" stroke-dasharray="5 2.3"/>
<text x="609.6" y="354.92" font-size="10" fill="#333" stroke="#333" stroke-width="0.35" textLength="39" lengthAdjust="spacingAndGlyphs">mae NN</text>
<path d="M582.4,365.56H602.2" stroke="#c14e4e" stroke-width="1.5" stroke-opacity="0.8"/>
<text x="609.6" y="368.56" font-size="10" fill="#333" stroke="#333" stroke-width="0.35" textLength="31.6" lengthAdjust="spacingAndGlyphs">ME NN</text>
<path d="M592.4,376.2 L593.36,378.28 L595.63,378.55 L593.95,380.1 L594.4,382.35 L592.4,381.23 L590.4,382.35 L590.85,380.1 L589.17,378.55 L591.44,378.28Z" fill="#e80808"/>
<text x="609.6" y="382.2" font-size="10" fill="#333" stroke="#333" stroke-width="0.35" textLength="61.7" lengthAdjust="spacingAndGlyphs">Mean ME NN</text>
<ellipse cx="592.4" cy="393.34" rx="3.2" ry="3.4" fill="#e80808"/>
<text x="609.6" y="395.84" font-size="10" fill="#333" stroke="#333" stroke-width="0.35" textLength="67.9" lengthAdjust="spacingAndGlyphs">Mean MAE NN</text>
</svg></div>
</body></html>
